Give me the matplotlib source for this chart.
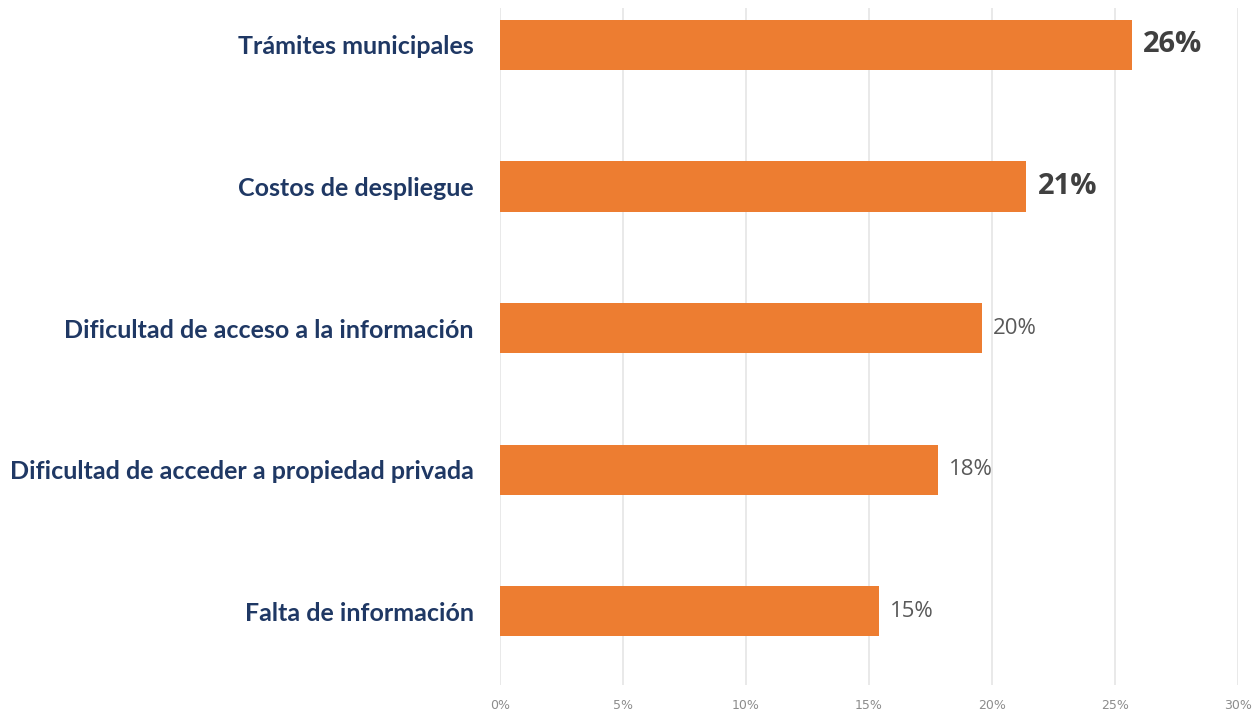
import matplotlib
matplotlib.use("Agg")
import matplotlib.pyplot as plt
from matplotlib.ticker import MultipleLocator, FuncFormatter

NAVY, ORANGE, GRID = "#1f3864", "#ed7d31", "#e3e3e3"

categories = ["Trámites municipales", "Costos de despliegue",
              "Dificultad de acceso a la información",
              "Dificultad de acceder a propiedad privada", "Falta de información"]
values = [25.7, 21.4, 19.6, 17.8, 15.4]
highlight = [True, True, False, False, False]

fig = plt.figure(figsize=(12.55, 7.13), dpi=100)
ax = fig.add_axes([0.3984, 0.0393, 0.5881, 0.9495])
pos = list(range(len(categories)))
ax.barh(pos, values, height=0.355, color=ORANGE, zorder=3)
ax.set_xlim(0, 30); ax.set_ylim(4.52, -0.26)
ax.xaxis.set_major_locator(MultipleLocator(5))
ax.xaxis.set_major_formatter(FuncFormatter(lambda v, _: f"{v:.0f}%"))
ax.grid(axis="x", color=GRID, lw=1.1, zorder=0)
for s in ax.spines.values(): s.set_visible(False)
ax.tick_params(length=0)
ax.tick_params(axis="x", labelsize=9, labelcolor="#8c8c8c", pad=10)
ax.set_yticks(pos)
ax.set_yticklabels(categories, fontsize=18, fontweight="bold", color=NAVY, family="Lato")
ax.tick_params(axis="y", pad=19)

# value labels: the two largest shares get a bigger bold face
for p, v, big in zip(pos, values, highlight):
    ax.annotate(f"{v:.0f}%", (v, p), xytext=(11, 0), textcoords="offset pixels",
                va="center", ha="left", family="Open Sans",
                fontsize=21 if big else 16, fontweight="bold" if big else "normal",
                color="#404040" if big else "#595959")

fig.savefig("out.png", facecolor="white")
